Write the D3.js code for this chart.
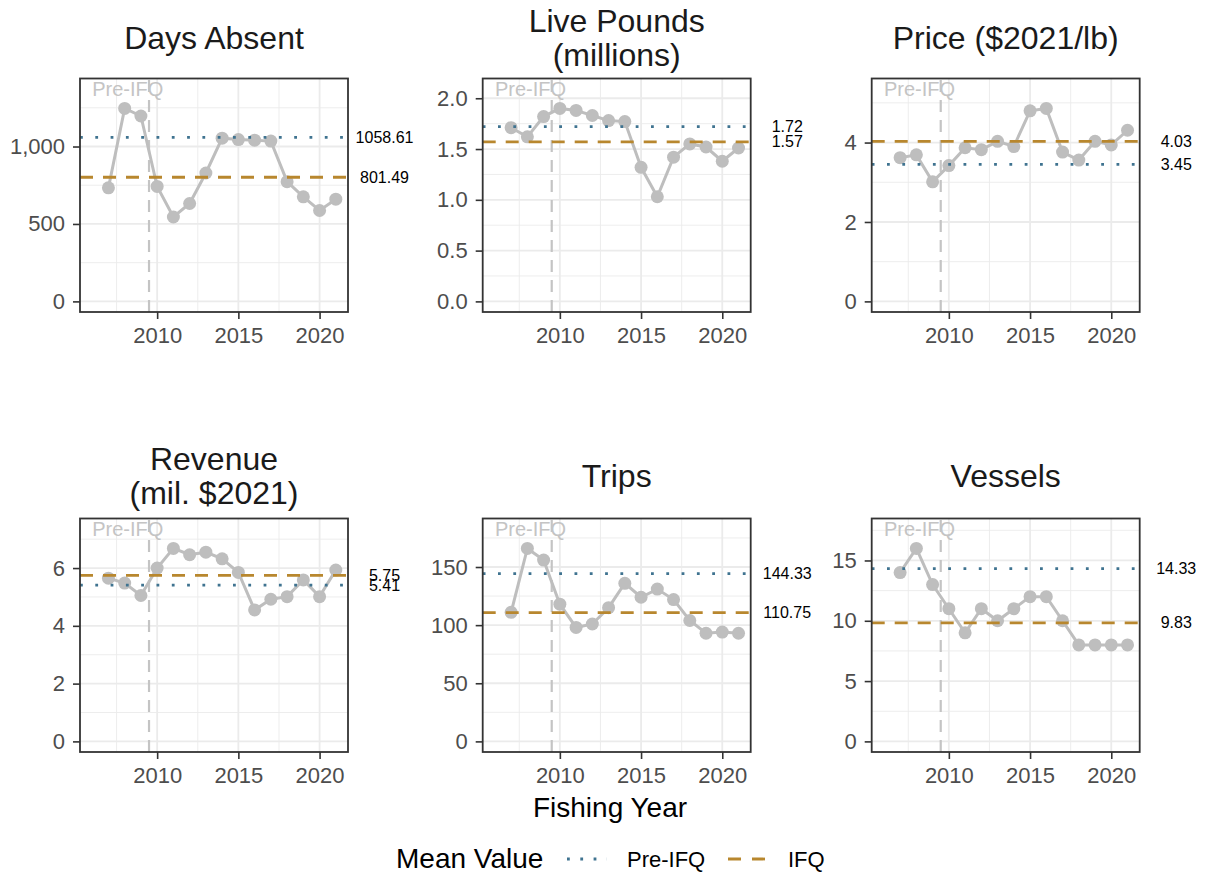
<!DOCTYPE html>
<html><head><meta charset="utf-8">
<script src="https://cdn.jsdelivr.net/npm/d3@7"></script>
<style>
body{margin:0;background:#fff}
svg{display:block}
text{font-family:"Liberation Sans",Arial,Helvetica,sans-serif}
</style>
</head><body>
<svg id="chart" width="1206" height="884"></svg>
<script>
// ---------- data ----------
const years = [2007, 2008, 2009, 2010, 2011, 2012, 2013, 2014, 2015, 2016, 2017, 2018, 2019, 2020, 2021];
const titles = [["Days Absent"], ["Live Pounds", "(millions)"], ["Price ($2021/lb)"],
                ["Revenue", "(mil. $2021)"], ["Trips"], ["Vessels"]];
const daysAbsent = [733, 1246, 1197, 742, 545, 632, 829, 1054, 1045, 1041, 1035, 773, 675, 587, 660];
const livePounds = [1.71, 1.62, 1.82, 1.90, 1.88, 1.83, 1.78, 1.77, 1.32, 1.03, 1.42, 1.55, 1.52, 1.38, 1.51];
const price      = [3.62, 3.69, 3.01, 3.42, 3.87, 3.82, 4.03, 3.90, 4.80, 4.86, 3.76, 3.56, 4.03, 3.94, 4.31];
const revenue    = [5.65, 5.48, 5.05, 6.00, 6.68, 6.46, 6.55, 6.32, 5.85, 4.55, 4.92, 5.01, 5.59, 5.01, 5.93];
const trips      = [111, 166, 156, 118, 98, 101, 115, 136, 124, 131, 122, 104, 93, 94, 93];
const vessels    = [14, 16, 13, 11, 9, 11, 10, 11, 12, 12, 10, 8, 8, 8, 8];
const preMeans = [1058.61, 1.72, 3.45, 5.41, 144.33, 14.33];
const ifqMeans = [801.49, 1.57, 4.03, 5.75, 110.75, 9.83];
const yTicks = [[0, 500, 1000], [0, 0.5, 1.0, 1.5, 2.0], [0, 2, 4], [0, 2, 4, 6], [0, 50, 100, 150], [0, 5, 10, 15]];
const yFormats = [",", ".1f", "d", "d", "d", "d"];
const xTicks = [2010, 2015, 2020];
const xMinor = [2007.5, 2012.5, 2017.5];
const ifqStart = 2009.5;
const annotX = 2006;
const meanLabelX = 2024;
const legendTitle = "Mean Value";
const legendLabels = ["Pre-IFQ", "IFQ"];
const xTitle = "Fishing Year";

const series = [daysAbsent, livePounds, price, revenue, trips, vessels];

// ---------- layout ----------
const colLeft = [80, 482.7, 871.7];
const rowTop = [78.5, 518.5];
const panelW = 268, panelH = 233.5;
const rowTitleCenter = [38, 476];
const C = {point: "#BEBEBE", grid: "#EBEBEB", border: "#333333", tick: "#4D4D4D",
           pre: "#3F7390", ifq: "#B8872E"};

const svg = d3.select("#chart");
svg.append("rect").attr("width", 1206).attr("height", 884).attr("fill", "#fff");

series.forEach((vals, i) => {
  const left = colLeft[i % 3], top = rowTop[Math.floor(i / 3)];
  const bottom = top + panelH, right = left + panelW;
  const maxV = d3.max(vals);
  const T = maxV * 1.155;
  const x = d3.scaleLinear().domain([2005.25, 2021.75]).range([left, right]);
  const y = d3.scaleLinear().domain([-T * 0.0476, T]).range([bottom, top]);
  const g = svg.append("g");

  // minor grid
  const step = yTicks[i][1] - yTicks[i][0];
  const yMinor = yTicks[i].map(v => v + step / 2).filter(v => v < T);
  g.selectAll(".ymin").data(yMinor).join("line")
    .attr("x1", left).attr("x2", right).attr("y1", d => y(d)).attr("y2", d => y(d))
    .attr("stroke", C.grid).attr("stroke-width", 0.9);
  g.selectAll(".xmin").data(xMinor).join("line")
    .attr("x1", d => x(d)).attr("x2", d => x(d)).attr("y1", top).attr("y2", bottom)
    .attr("stroke", C.grid).attr("stroke-width", 0.9);
  // major grid
  g.selectAll(".ymaj").data(yTicks[i]).join("line")
    .attr("x1", left).attr("x2", right).attr("y1", d => y(d)).attr("y2", d => y(d))
    .attr("stroke", C.grid).attr("stroke-width", 1.8);
  g.selectAll(".xmaj").data(xTicks).join("line")
    .attr("x1", d => x(d)).attr("x2", d => x(d)).attr("y1", top).attr("y2", bottom)
    .attr("stroke", C.grid).attr("stroke-width", 1.8);

  // IFQ start line
  g.append("line").attr("x1", x(ifqStart)).attr("x2", x(ifqStart))
    .attr("y1", bottom).attr("y2", top)
    .attr("stroke", "#C4C4C4").attr("stroke-width", 2.2).attr("stroke-dasharray", "12 8");

  // series line and points
  g.append("path").datum(vals)
    .attr("d", d3.line().x((d, k) => x(years[k])).y(d => y(d)))
    .attr("fill", "none").attr("stroke", C.point).attr("stroke-width", 3);
  g.selectAll(".pt").data(vals).join("circle")
    .attr("cx", (d, k) => x(years[k])).attr("cy", d => y(d)).attr("r", 6.5)
    .attr("fill", C.point);

  // mean lines
  g.append("line").attr("x1", left).attr("x2", right)
    .attr("y1", y(preMeans[i])).attr("y2", y(preMeans[i]))
    .attr("stroke", C.pre).attr("stroke-width", 2.8).attr("stroke-dasharray", "2.8 12.5");
  g.append("line").attr("x1", left).attr("x2", right)
    .attr("y1", y(ifqMeans[i])).attr("y2", y(ifqMeans[i]))
    .attr("stroke", C.ifq).attr("stroke-width", 2.8).attr("stroke-dasharray", "13 10");

  // annotation
  g.append("text").attr("x", x(annotX)).attr("y", y(maxV * 1.1))
    .attr("dominant-baseline", "central").attr("font-size", 20).attr("fill", "#C4C4C4")
    .text(legendLabels[0]);

  // border
  g.append("rect").attr("x", left).attr("y", top).attr("width", panelW).attr("height", panelH)
    .attr("fill", "none").attr("stroke", C.border).attr("stroke-width", 1.8);

  // axes
  const ax = g.append("g").attr("transform", `translate(0,${bottom})`)
    .call(d3.axisBottom(x).tickValues(xTicks).tickFormat(d3.format("d")).tickSize(7).tickPadding(8));
  const ay = g.append("g").attr("transform", `translate(${left},0)`)
    .call(d3.axisLeft(y).tickValues(yTicks[i]).tickFormat(d3.format(yFormats[i])).tickSize(7).tickPadding(8));
  [ax, ay].forEach(a => {
    a.select(".domain").remove();
    a.selectAll("line").attr("stroke", C.border).attr("stroke-width", 1.6);
    a.selectAll("text").attr("font-size", 22).attr("fill", C.tick)
      .style("font-family", '"Liberation Sans",Arial,sans-serif');
  });

  // mean value labels
  [preMeans[i], ifqMeans[i]].forEach(m => {
    g.append("text").attr("x", x(meanLabelX)).attr("y", y(m))
      .attr("text-anchor", "middle").attr("dominant-baseline", "central")
      .attr("font-size", 16).attr("fill", "#000").text(d3.format(".2f")(m));
  });

  // panel title (strip)
  const lines = titles[i];
  const cy = rowTitleCenter[Math.floor(i / 3)];
  lines.forEach((t, k) => {
    const base = cy + 11.4 + (k - (lines.length - 1) / 2) * 34;
    g.append("text").attr("x", (left + right) / 2).attr("y", base)
      .attr("text-anchor", "middle").attr("font-size", 32).attr("fill", "#1A1A1A").text(t);
  });
});

// x axis title
svg.append("text").attr("x", 610).attr("y", 817).attr("text-anchor", "middle")
  .attr("font-size", 28).attr("fill", "#000").text(xTitle);

// legend
const lg = svg.append("g");
lg.append("text").attr("x", 396).attr("y", 868).attr("font-size", 28).attr("fill", "#000").text(legendTitle);
lg.append("line").attr("x1", 567).attr("x2", 607).attr("y1", 859).attr("y2", 859)
  .attr("stroke", C.pre).attr("stroke-width", 2.8).attr("stroke-dasharray", "2.8 10.5");
lg.append("text").attr("x", 627).attr("y", 867).attr("font-size", 22).attr("fill", "#000").text(legendLabels[0]);
lg.append("line").attr("x1", 728).attr("x2", 765).attr("y1", 859).attr("y2", 859)
  .attr("stroke", C.ifq).attr("stroke-width", 2.8).attr("stroke-dasharray", "13 11");
lg.append("text").attr("x", 788).attr("y", 867).attr("font-size", 22).attr("fill", "#000").text(legendLabels[1]);
</script>
</body></html>
